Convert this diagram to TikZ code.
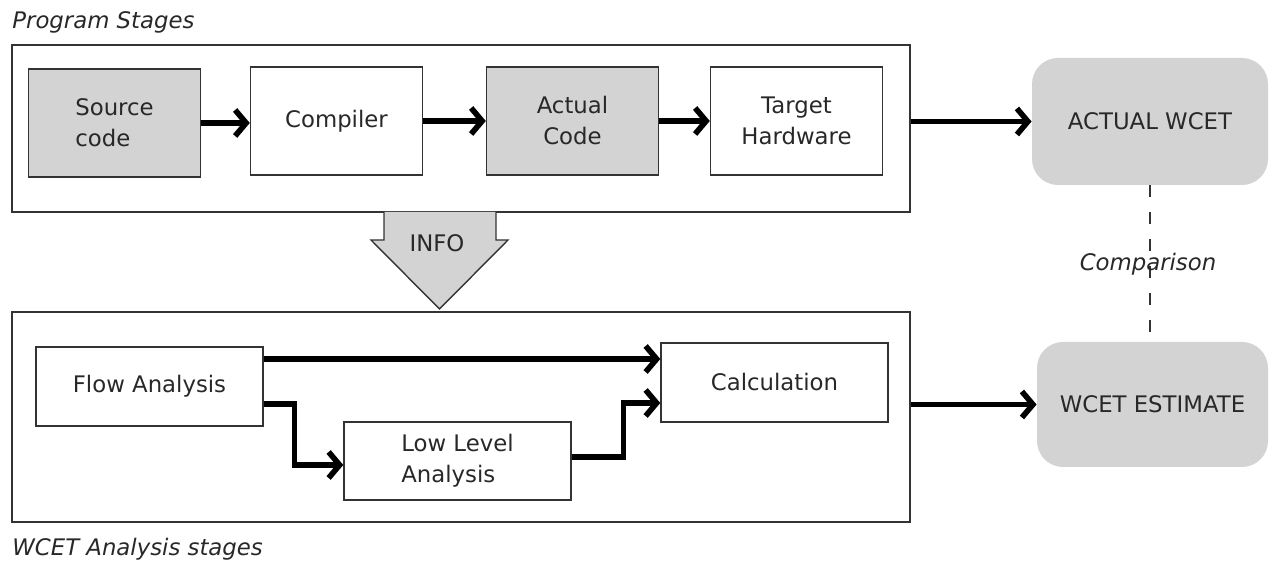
\documentclass[tikz,border=0pt]{standalone}
\usepackage{fontspec}
\setmainfont{DejaVu Sans}
\usetikzlibrary{arrows.meta,calc}
\definecolor{boxgray}{RGB}{211,211,211}
\definecolor{txtc}{RGB}{40,40,40}
\begin{document}
\begin{tikzpicture}[x=0.5pt,y=-0.5pt,
  font=\fontsize{11.4}{15.5}\selectfont,
  every node/.style={text=txtc},
  cont/.style={draw=black!80, line width=0.7pt, inner sep=0pt},
  stage/.style={draw=black!80, line width=0.7pt, inner sep=0pt, minimum width=86pt, minimum height=54pt, align=center},
  ana/.style={draw=black!80, line width=0.7pt, inner sep=0pt, minimum width=113.5pt, minimum height=39.5pt},
  result/.style={fill=boxgray, rounded corners=13pt, inner sep=0pt},
  grayfill/.style={fill=boxgray},
  arr/.style={line width=2.8pt, -{Straight Barb[length=5.5pt,width=13pt]}},
  lab/.style={font=\fontsize{11.4}{15.5}\selectfont\itshape, inner sep=0pt},
]
\useasboundingbox (0,0) rectangle (1271,565);

% containers
\node[cont, minimum width=449pt, minimum height=83.5pt] (top) at (461,128.5) {};
\node[cont, minimum width=449pt, minimum height=105pt] (bot) at (461,417) {};

% INFO arrow
\draw[draw=black!80, line width=0.7pt, fill=boxgray]
  (384,212) -- (384,240) -- (371,240) -- (439.5,309) -- (508,240) -- (496,240) -- (496,212);
\node[inner sep=0pt, anchor=base] (info) at (437,252) {INFO};

% labels
\node[lab, anchor=base west] (ps) at (12,29) {Program Stages};
\node[lab, anchor=base west] (was) at (12,556) {WCET Analysis stages};

% program stages
\node[stage, grayfill, align=left] (src) at (114.5,123) {Source\\code};
\node[stage] (comp) at (336.5,121) {Compiler};
\node[stage, grayfill] (act) at (572.5,121) {Actual\\Code};
\node[stage] (tgt) at (796.5,121) {Target\\Hardware};

% results
\node[result, minimum width=118pt, minimum height=63.5pt] (aw) at (1150,121.5) {ACTUAL WCET};
\node[result, minimum width=115.5pt, minimum height=62.5pt] (est) at (1152.5,404.5) {WCET ESTIMATE};

% analysis stages
\node[ana] (flow) at (149.5,386.5) {Flow Analysis};
\node[ana] (calc) at (774.5,382.5) {Calculation};
\node[ana, minimum height=39pt, align=left] (low) at (457.5,461) {Low Level\\Analysis};

% connectors
\draw[arr] (src.east) -- (src.east -| comp.west);
\draw[arr] (comp.east) -- (act.west);
\draw[arr] (act.east) -- (act.east -| tgt.west);
\draw[arr] (top.east |- aw.west) -- (aw.west);
\draw[arr] (bot.east |- est.west) -- (est.west);

\draw[arr] ([yshift=13.75pt]flow.east) -- ([yshift=13.75pt]flow.east -| calc.west);
\draw[arr] ([yshift=-8.75pt]flow.east) -| ([xshift=-24.5pt,yshift=-2pt]low.west) -- ([yshift=-2pt]low.west);
\draw[arr] ([yshift=2pt]low.east) -| ([xshift=-18.5pt,yshift=-10.25pt]calc.west) -- ([yshift=-10.25pt]calc.west);

% comparison
\draw[black!80, line width=0.6pt, dash pattern=on 6pt off 7.5pt] (aw.south) -- (aw.south |- est.north);
\node[lab, anchor=base] (cmp) at (1148,271) {Comparison};
\end{tikzpicture}
\end{document}
